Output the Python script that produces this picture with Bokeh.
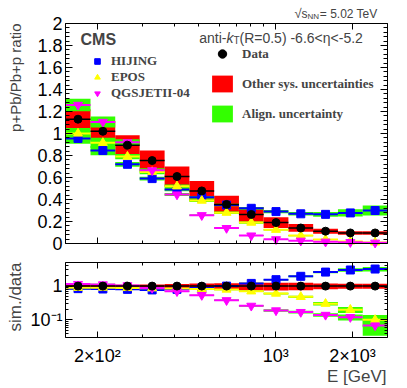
import math
from bokeh.plotting import figure
from bokeh.models import (FixedTicker, CustomJSTickFormatter, LinearAxis, LogAxis,
                          Label, Legend, LegendItem, Range1d)
from bokeh.layouts import column
from bokeh.embed import file_html
from bokeh.resources import INLINE

# ---------------- data ----------------
e_edges = [150, 188, 235, 293, 367, 459, 574, 718, 897, 1122, 1403, 1755, 2195, 2745]

data_vals = [1.13, 1.02, 0.894, 0.754, 0.609, 0.478, 0.355, 0.264, 0.190, 0.141, 0.112, 0.096, 0.096]
data_sys_rel = [0.08, 0.09, 0.10, 0.12, 0.15, 0.19, 0.22, 0.26, 0.26, 0.25, 0.20, 0.17, 0.17]

hijing_vals = [0.955, 0.845, 0.72, 0.59, 0.49, 0.42, 0.35, 0.32, 0.29, 0.27, 0.265, 0.278, 0.30]
epos_vals = [1.00, 0.915, 0.79, 0.65, 0.52, 0.39, 0.28, 0.19, 0.125, 0.072, 0.036, 0.019, 0.010]
qgsjet_vals = [1.26, 1.105, 0.92, 0.665, 0.445, 0.257, 0.14, 0.072, 0.038, 0.025, 0.016, 0.012, 0.007]

hijing_align_rel = [0.05, 0.05, 0.03, 0.03, 0.03, 0.03, 0.03, 0.04, 0.05, 0.06, 0.08, 0.12, 0.15]
epos_align_rel = [0.05, 0.05, 0.03, 0.03, 0.03, 0.03, 0.04, 0.05, 0.06, 0.08, 0.12, 0.20, 0.40]
qgsjet_align_rel = [0.045, 0.045, 0.03, 0.03, 0.03, 0.03, 0.05, 0.06, 0.08, 0.10, 0.12, 0.20, 0.50]

data_over_data = [1.0, 1.0, 1.0, 1.0, 1.0, 1.0, 1.0, 1.0, 1.0, 1.0, 1.0, 1.0, 1.0]
hijing_over_data = [0.84, 0.82, 0.80, 0.77, 0.80, 0.88, 1.0, 1.2, 1.55, 1.95, 2.6, 3.0, 3.2]
epos_over_data = [0.89, 0.90, 0.88, 0.86, 0.85, 0.82, 0.79, 0.70, 0.60, 0.48, 0.30, 0.20, 0.10]
qgsjet_over_data = [1.15, 1.12, 1.05, 0.88, 0.70, 0.54, 0.38, 0.26, 0.19, 0.17, 0.14, 0.12, 0.068]

top_y_ticks = [0, 0.2, 0.4, 0.6, 0.8, 1, 1.2, 1.4, 1.6, 1.8, 2]
x_ticks = [200, 1000, 2000]
x_minor = [200, 300, 400, 500, 600, 700, 800, 900, 1000, 2000]
bot_y_ticks = [0.1, 1]
bot_y_minor = [0.03, 0.04, 0.05, 0.06, 0.07, 0.08, 0.09, 0.1, 0.2, 0.3, 0.4, 0.5, 0.6, 0.7,
               0.8, 0.9, 1, 2, 3, 4, 5]
top_y_lim = (0, 2)
bot_y_lim = (0.03, 5)

RED = "#ff0000"
GREEN = "#33ff00"
C_HIJ = "#0000ff"
C_EPOS = "#ffff00"
C_QGS = "#ff00ff"
FONT = "Liberation Sans"
SERIF = "Liberation Serif"

# ---------------- layout: page px -> data coords ----------------
# axes box (drawn with fixed-location axes): x from page 65 to 387,
# top panel y from 23 to 243, bottom panel y from 262 to 337
W = 400
H_TOP = 254
H_BOT = 132
AX_L, AX_R = 65, 387
LOG0 = math.log10(e_edges[0])
LOGSPAN = math.log10(e_edges[-1]) - LOG0


def xpos(px):
    return 10 ** (LOG0 + (px - AX_L) / float(AX_R - AX_L) * LOGSPAN)


def ytop(py):
    return (243 - py) / 110.0


BLO, BHI = math.log10(bot_y_lim[0]), math.log10(bot_y_lim[1])


def ybot(py):
    return 10 ** (BHI - (py - 262) / 75.0 * (BHI - BLO))


def style_axis(ax, show_labels, tin, tmin, size="18px", standoff=3):
    ax.major_tick_in = tin
    ax.major_tick_out = 0
    ax.minor_tick_in = tmin
    ax.minor_tick_out = 0
    ax.axis_line_color = "black"
    ax.axis_line_width = 1
    ax.major_tick_line_color = "black"
    ax.minor_tick_line_color = "black"
    ax.major_label_text_font = FONT
    ax.major_label_text_color = "black"
    ax.major_label_text_font_size = size
    ax.major_label_standoff = standoff
    if not show_labels:
        ax.formatter = CustomJSTickFormatter(code="return '';")


fmt_top_y = CustomJSTickFormatter(code="return (Math.round(tick*10)/10).toString();")
fmt_x = CustomJSTickFormatter(code="""
if (Math.abs(tick-200) < 1) return '2\u00d710\u00b2';
if (Math.abs(tick-1000) < 1) return '10\u00b3';
if (Math.abs(tick-2000) < 1) return '2\u00d710\u00b3';
return '';
""")
fmt_bot_y = CustomJSTickFormatter(code="""
if (Math.abs(tick-1) < 1e-6) return '1';
if (Math.abs(tick-0.1) < 1e-7) return '10\u207b\u00b9';
return '';
""")

left_e = e_edges[:-1]
right_e = e_edges[1:]
xc = [math.sqrt(a * b) for a, b in zip(left_e, right_e)]
xbounds = (e_edges[0], e_edges[-1])


def draw_panel(p, dvals, drel, models):
    r_red = p.quad(left=left_e, right=right_e,
                   bottom=[v * (1 - r) for v, r in zip(dvals, drel)],
                   top=[v * (1 + r) for v, r in zip(dvals, drel)],
                   fill_color=RED, line_color=None)
    greens = []
    for vals, rel, color, marker, size in models:
        g = p.quad(left=left_e, right=right_e,
                   bottom=[v * (1 - r) for v, r in zip(vals, rel)],
                   top=[v * (1 + r) for v, r in zip(vals, rel)],
                   fill_color=GREEN, line_color=None)
        greens.append(g)
    rends = []
    for vals, rel, color, marker, size in models:
        p.segment(x0=left_e, y0=vals, x1=right_e, y1=vals, line_color=color, line_width=2)
        r = p.scatter(x=xc, y=vals, marker=marker, size=size, fill_color=color, line_color=color)
        rends.append(r)
    p.segment(x0=left_e, y0=dvals, x1=right_e, y1=dvals, line_color="black", line_width=1.5)
    rd = p.scatter(x=xc, y=dvals, marker="circle", size=8, fill_color="black", line_color="black")
    return rends, rd, r_red, greens[0]


def label(p, x, y, text, **kw):
    kw.setdefault("text_font", FONT)
    kw.setdefault("text_baseline", "middle")
    p.add_layout(Label(x=x, y=y, text=text, **kw))


def base_fig(height, y_type, y_range):
    p = figure(width=W, height=height, x_axis_type="log", y_axis_type=y_type,
               x_range=Range1d(xpos(0), xpos(W)), y_range=y_range,
               output_backend="svg", toolbar_location=None,
               min_border=0, min_border_left=0, min_border_right=0,
               min_border_top=0, min_border_bottom=0)
    p.xgrid.visible = False
    p.ygrid.visible = False
    p.outline_line_color = None
    p.background_fill_color = "white"
    p.border_fill_color = "white"
    return p


# ---------------- top panel ----------------
top = base_fig(H_TOP, "linear", Range1d(ytop(H_TOP), ytop(0)))

yt = FixedTicker(ticks=top_y_ticks, minor_ticks=[i * 0.04 for i in range(51)])
xt = FixedTicker(ticks=x_ticks, minor_ticks=x_minor)
ax = top.yaxis[0]
ax.ticker = yt
ax.formatter = fmt_top_y
ax.fixed_location = e_edges[0]
ax.bounds = top_y_lim
style_axis(ax, True, 7, 4)
ax = top.xaxis[0]
ax.ticker = xt
ax.fixed_location = top_y_lim[0]
ax.bounds = xbounds
style_axis(ax, False, 6, 3)
ax = LinearAxis(ticker=yt, fixed_location=e_edges[-1], bounds=top_y_lim)
style_axis(ax, False, 7, 4)
top.add_layout(ax, "right")
ax = LogAxis(ticker=xt, fixed_location=top_y_lim[1], bounds=xbounds)
style_axis(ax, False, 6, 3)
top.add_layout(ax, "above")

models_top = [
    (hijing_vals, hijing_align_rel, C_HIJ, "square", 8),
    (epos_vals, epos_align_rel, C_EPOS, "triangle", 9),
    (qgsjet_vals, qgsjet_align_rel, C_QGS, "inverted_triangle", 9),
]
(r_hij, r_epos, r_qgs), r_data, r_red, r_green = draw_panel(top, data_vals, data_sys_rel, models_top)

leg1 = Legend(items=[LegendItem(label="HIJING", renderers=[r_hij]),
                     LegendItem(label="EPOS", renderers=[r_epos]),
                     LegendItem(label="QGSJETII-04", renderers=[r_qgs])],
              location=(90, H_TOP - 101), glyph_width=14, glyph_height=16, spacing=0,
              padding=0, margin=0, label_standoff=7, label_height=12,
              label_text_font=SERIF, label_text_font_style="bold",
              label_text_font_size="13px", background_fill_alpha=0, border_line_alpha=0)
leg2 = Legend(items=[LegendItem(label="Data", renderers=[r_data]),
                     LegendItem(label="Other sys. uncertainties", renderers=[r_red]),
                     LegendItem(label="Align. uncertainty", renderers=[r_green])],
              location=(209, H_TOP - 124), glyph_width=26, glyph_height=21, spacing=9,
              padding=0, margin=0, label_standoff=7, label_height=12,
              label_text_font=SERIF, label_text_font_style="bold",
              label_text_font_size="13px", background_fill_alpha=0, border_line_alpha=0)
top.add_layout(leg1)
top.add_layout(leg2)

label(top, xpos(80), ytop(39), "CMS", text_font_style="bold", text_font_size="16px",
      text_align="left")
label(top, xpos(226), ytop(37), "anti-", text_font_size="14px", text_align="right")
label(top, xpos(226), ytop(37), "k", text_font_style="italic", text_font_size="14px",
      text_align="left")
label(top, xpos(233), ytop(40), "T", text_font_size="10px", text_align="left")
label(top, xpos(239), ytop(37), "(R=0.5) -6.6<\u03b7<-5.2", text_font_size="14px",
      text_align="left")
label(top, xpos(294), ytop(13), "\u221a", text_font_size="13px", text_align="left")
label(top, xpos(301), ytop(13), "s", text_font_size="12px", text_align="left")
label(top, xpos(307), ytop(16), "NN", text_font_size="8px", text_align="left")
label(top, xpos(377), ytop(13), "= 5.02 TeV", text_font_size="12px", text_align="right")
label(top, xpos(15), ytop(23), "p+Pb/Pb+p ratio", text_font_size="15px",
      angle=math.pi / 2, text_align="right")

# ---------------- bottom panel (page y from H_TOP) ----------------
bot = base_fig(H_BOT, "log", Range1d(ybot(H_TOP + H_BOT), ybot(H_TOP)))

byt = FixedTicker(ticks=bot_y_ticks, minor_ticks=bot_y_minor)
bxt = FixedTicker(ticks=x_ticks, minor_ticks=x_minor)
ax = bot.yaxis[0]
ax.ticker = byt
ax.formatter = fmt_bot_y
ax.fixed_location = e_edges[0]
ax.bounds = bot_y_lim
style_axis(ax, True, 7, 3)
ax = bot.xaxis[0]
ax.ticker = bxt
ax.formatter = fmt_x
ax.fixed_location = bot_y_lim[0]
ax.bounds = xbounds
style_axis(ax, True, 6, 3, standoff=8)
ax = LogAxis(ticker=byt, fixed_location=e_edges[-1], bounds=bot_y_lim)
style_axis(ax, False, 7, 3)
bot.add_layout(ax, "right")
ax = LogAxis(ticker=bxt, fixed_location=bot_y_lim[1], bounds=xbounds)
style_axis(ax, False, 6, 3)
bot.add_layout(ax, "above")

models_bot = [
    (hijing_over_data, hijing_align_rel, C_HIJ, "square", 8),
    (epos_over_data, epos_align_rel, C_EPOS, "triangle", 9),
    (qgsjet_over_data, qgsjet_align_rel, C_QGS, "inverted_triangle", 9),
]
draw_panel(bot, data_over_data, data_sys_rel, models_bot)

label(bot, xpos(15), ybot(262), "sim./data", text_font_size="17px",
      angle=math.pi / 2, text_align="right")
label(bot, xpos(386), ybot(376), "E [GeV]", text_font_size="17px", text_align="right")

layout = column(top, bot, spacing=0)
open("out.html", "w").write(file_html(layout, INLINE))
